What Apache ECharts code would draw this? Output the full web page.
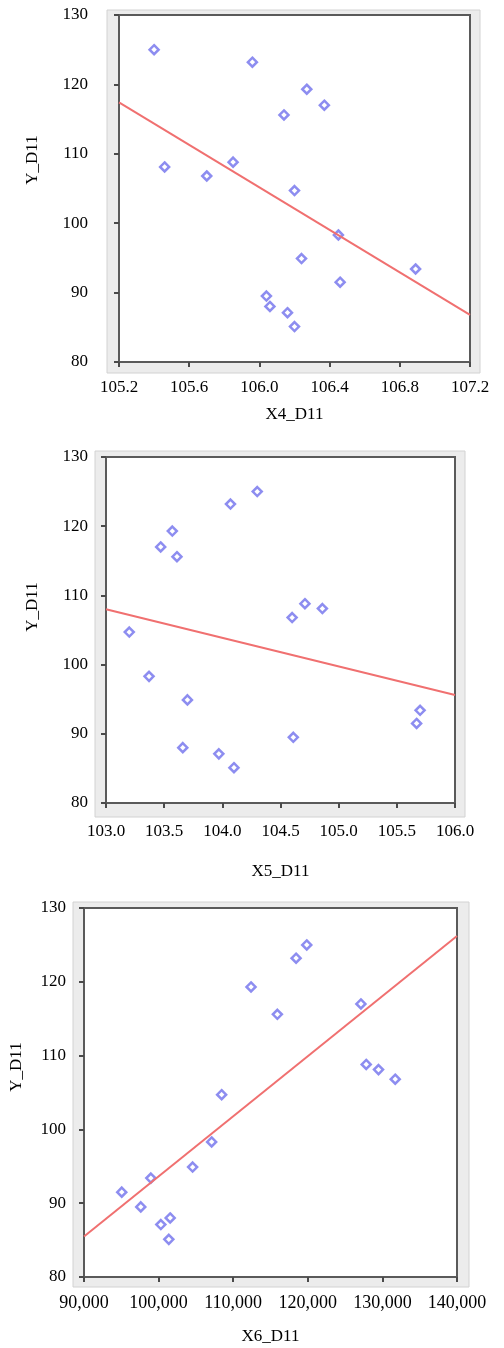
<!DOCTYPE html>
<html>
<head>
<meta charset="utf-8">
<script src="https://cdn.jsdelivr.net/npm/echarts@6/dist/echarts.min.js"></script>
<style>
    html, body { margin: 0; padding: 0; background: #fff; }
    #chart { width: 504px; height: 1348px; }
</style>
</head>
<body>
<div id="chart"></div>
<script>
// Y_D11 values (same observations in all three panels)
var yD11 = [125.0, 123.2, 119.3, 117.0, 115.6, 108.8, 108.1, 106.8, 104.7, 98.3, 94.9, 93.4, 91.5, 89.5, 88.0, 87.1, 85.1];
var x4D11 = [105.40, 105.96, 106.27, 106.37, 106.14, 105.85, 105.46, 105.70, 106.20, 106.45, 106.24, 106.89, 106.46, 106.04, 106.06, 106.16, 106.20];
var x5D11 = [104.30, 104.07, 103.57, 103.47, 103.61, 104.71, 104.86, 104.60, 103.20, 103.37, 103.70, 105.70, 105.67, 104.61, 103.66, 103.97, 104.10];
var x6D11 = [119860, 118430, 112390, 127120, 115920, 127830, 129480, 131720, 108450, 107110, 104560, 98960, 95060, 97610, 101550, 100300, 101370];

// fitted lines, end points
var fit4X = [105.2, 107.2], fit4Y = [117.4, 86.8];
var fit5X = [103.0, 106.0], fit5Y = [108.0, 95.6];
var fit6X = [90000, 140000], fit6Y = [85.5, 126.2];

var xNames = ['X4_D11', 'X5_D11', 'X6_D11'];
var yName = 'Y_D11';

var FONT = '"Liberation Serif", "Times New Roman", serif';
var pairs = function (xs, ys) {
    return xs.map(function (v, i) { return [v, ys[i]]; });
};

var chart = echarts.init(document.getElementById('chart'));

// per-panel layout
var grids = [
    {left: 119, top: 15, width: 351, height: 347},
    {left: 106, top: 457, width: 349, height: 346},
    {left: 84, top: 908, width: 373, height: 369}
];
var frames = [
    {x: 107, y: 10, width: 373, height: 363},
    {x: 95, y: 451, width: 370, height: 366},
    {x: 73, y: 902, width: 396, height: 385}
];
var yNamePos = [[33, 160], [33, 607], [17, 1067]];
var yLabelMargin = [31, 18, 18];
var xLabelMargin = [17, 20, 17];
var xNameGap = [44, 60, 51];

var xRanges = [
    {min: 105.2, max: 107.2, interval: 0.4, fmt: function (v) { return v.toFixed(1); }},
    {min: 103.0, max: 106.0, interval: 0.5, fmt: function (v) { return v.toFixed(1); }},
    {min: 90000, max: 140000, interval: 10000, fmt: function (v) { return v.toLocaleString('en-US'); }}
];
var xData = [x4D11, x5D11, x6D11];
var fits = [[fit4X, fit4Y], [fit5X, fit5Y], [fit6X, fit6Y]];

var axisLine = {lineStyle: {color: '#5a5a5a', width: 2}};
var axisTick = {inside: false, length: 5, lineStyle: {color: '#4a4a4a', width: 2}};

var option = {
    backgroundColor: '#fff',
    animation: false,
    grid: grids.map(function (g) {
        return {
            left: g.left, top: g.top, width: g.width, height: g.height,
            show: true, backgroundColor: '#fff', borderColor: '#5a5a5a', borderWidth: 2
        };
    }),
    xAxis: xRanges.map(function (r, i) {
        return {
            type: 'value', gridIndex: i,
            min: r.min, max: r.max, interval: r.interval,
            name: xNames[i], nameLocation: 'middle', nameGap: xNameGap[i],
            nameTextStyle: {fontFamily: FONT, fontSize: 17, color: '#000'},
            axisLine: axisLine, axisTick: axisTick,
            axisLabel: {
                margin: xLabelMargin[i], fontFamily: FONT, fontSize: i === 2 ? 18 : 17, color: '#000',
                formatter: r.fmt
            },
            splitLine: {show: false}
        };
    }),
    yAxis: grids.map(function (g, i) {
        return {
            type: 'value', gridIndex: i,
            min: 80, max: 130, interval: 10,
            axisLine: axisLine, axisTick: axisTick,
            axisLabel: {margin: yLabelMargin[i], fontFamily: FONT, fontSize: 17, color: '#000'},
            splitLine: {show: false}
        };
    }),
    graphic: frames.map(function (f) {
        return {
            type: 'rect', z: -10,
            shape: {x: f.x, y: f.y, width: f.width, height: f.height},
            style: {fill: '#ececec', stroke: '#d2d2d2', lineWidth: 1}
        };
    }).concat(yNamePos.map(function (p) {
        return {
            type: 'text', x: p[0], y: p[1], rotation: Math.PI / 2,
            style: {
                text: yName, font: '17px ' + FONT, fill: '#000',
                align: 'center', verticalAlign: 'middle'
            }
        };
    })),
    series: []
};

xData.forEach(function (xs, i) {
    option.series.push({
        type: 'line', xAxisIndex: i, yAxisIndex: i,
        data: pairs(fits[i][0], fits[i][1]),
        symbol: 'none', silent: true,
        lineStyle: {color: '#f07070', width: 2}
    });
    option.series.push({
        type: 'scatter', xAxisIndex: i, yAxisIndex: i,
        data: pairs(xs, yD11),
        symbol: 'diamond', symbolSize: 9,
        itemStyle: {color: '#fff', borderColor: '#7070ec', borderWidth: 2.5}
    });
});

chart.setOption(option);
</script>
</body>
</html>
